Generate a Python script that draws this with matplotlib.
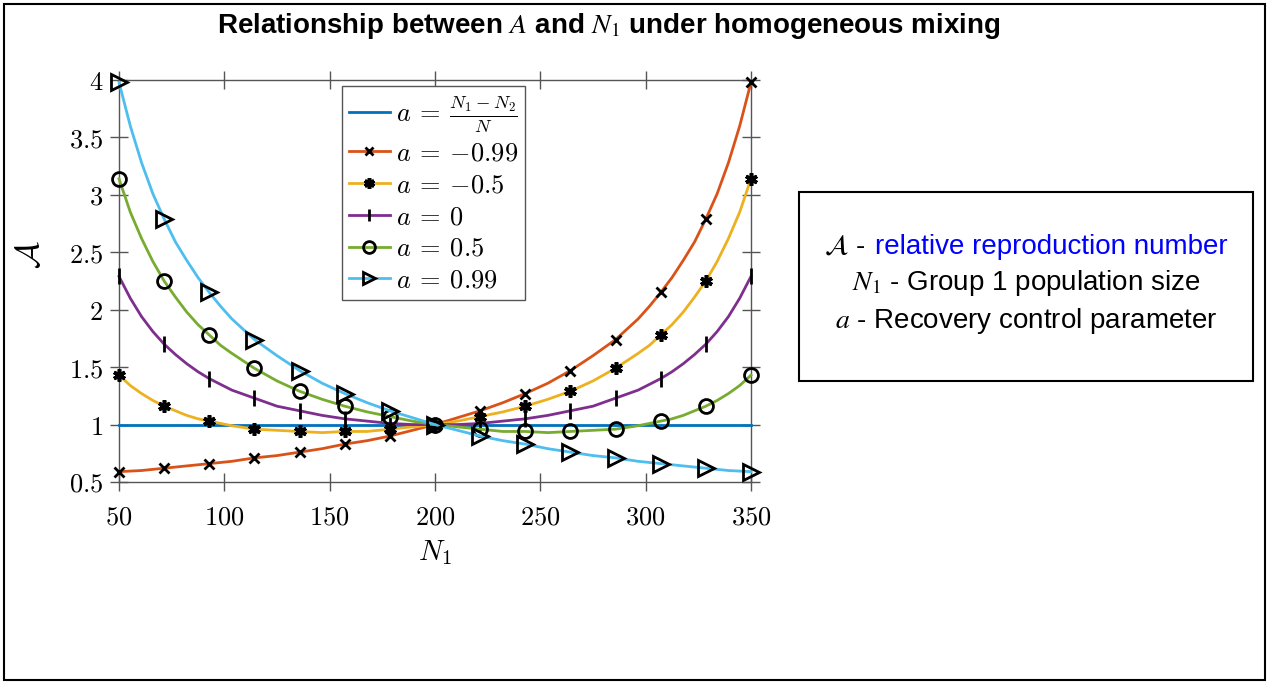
import matplotlib
matplotlib.use("Agg")
import matplotlib.pyplot as plt
import matplotlib.patches as patches
from matplotlib.ticker import FuncFormatter
from matplotlib.offsetbox import TextArea, HPacker, VPacker, AnchoredOffsetbox

plt.rcParams['mathtext.fontset'] = 'cm'

# N1 values (denser near the steep ends)
n1 = [50.0, 55.36, 60.71, 66.07, 71.43, 76.79, 82.14, 87.5, 92.86, 98.21, 103.57,
      114.29, 125.0, 135.71, 146.43, 157.14, 167.86, 178.57, 189.29, 200.0,
      210.71, 221.43, 232.14, 242.86, 253.57, 264.29, 275.0, 285.71,
      296.43, 301.79, 307.14, 312.5, 317.86, 323.21, 328.57, 333.93, 339.29, 344.64, 350.0]
# where the markers sit
n1_marks = [50.0, 71.43, 92.86, 114.29, 135.71, 157.14, 178.57, 200.0,
            221.43, 242.86, 264.29, 285.71, 307.14, 328.57, 350.0]

a_neg099 = [0.59, 0.595, 0.60, 0.61, 0.62, 0.63, 0.64, 0.65, 0.66, 0.67, 0.68,
            0.71, 0.73, 0.76, 0.79, 0.83, 0.86, 0.90, 0.95, 1.00,
            1.06, 1.12, 1.19, 1.27, 1.36, 1.47, 1.60, 1.74,
            1.92, 2.03, 2.15, 2.28, 2.43, 2.59, 2.79, 3.01, 3.28, 3.60, 3.98]
a_neg05 = [1.43, 1.34, 1.27, 1.21, 1.16, 1.12, 1.08, 1.05, 1.03, 1.01, 0.99,
           0.96, 0.95, 0.94, 0.93, 0.94, 0.94, 0.96, 0.98, 1.00,
           1.03, 1.07, 1.11, 1.16, 1.22, 1.29, 1.38, 1.49,
           1.62, 1.69, 1.78, 1.87, 1.98, 2.11, 2.25, 2.42, 2.62, 2.85, 3.14]
a_0 = [2.29, 2.10, 1.94, 1.81, 1.70, 1.61, 1.53, 1.46, 1.40, 1.35, 1.30,
       1.23, 1.16, 1.12, 1.08, 1.05, 1.03, 1.01, 1.00, 1.00,
       1.00, 1.01, 1.03, 1.05, 1.08, 1.12, 1.16, 1.23,
       1.30, 1.35, 1.40, 1.46, 1.53, 1.61, 1.70, 1.81, 1.94, 2.10, 2.29]
a_05 = a_neg05[::-1]
a_099 = a_neg099[::-1]
a_diff = [1.0] * len(n1)

labels = [r"$a\:=\:\frac{N_1-N_2}{N}$", r"$a\:=\:{-0.99}$", r"$a\:=\:{-0.5}$", r"$a\:=\:0$",
          r"$a\:=\:0.5$", r"$a\:=\:0.99$"]
series = [a_diff, a_neg099, a_neg05, a_0, a_05, a_099]
colors = ['#0072BD', '#D95319', '#EDB120', '#7E2F8E', '#77AC30', '#4DBEEE']
markers = [None, 'x', (6, 2, 0), '|', 'o', '>']
msizes = [0, 7, 9, 11, 10, 11]
mwidths = [2, 2, 2.6, 2, 2, 2]

mark_idx = [n1.index(x) for x in n1_marks]

fig = plt.figure(figsize=(12.68, 6.84), dpi=100)
ax = fig.add_axes([119/1268, 1 - 482/684, 632/1268, 402/684])

for ys, lab, c, m, ms, mw in zip(series, labels, colors, markers, msizes, mwidths):
    ax.plot(n1, ys, color=c, lw=2, label=lab, marker=m, markevery=mark_idx,
            markersize=ms, markeredgecolor='black', markerfacecolor='none',
            markeredgewidth=mw, clip_on=False, zorder=3)

ax.set_xlim(50, 350)
ax.set_ylim(0.5, 4)
ax.set_xticks([50, 100, 150, 200, 250, 300, 350])
ax.set_yticks([0.5, 1, 1.5, 2, 2.5, 3, 3.5, 4])
fmt = FuncFormatter(lambda v, p: f"${v:g}$")
ax.xaxis.set_major_formatter(fmt)
ax.yaxis.set_major_formatter(fmt)
ax.tick_params(direction='inout', length=13, width=1, color='#555555',
               labelsize=19, top=True, right=True)
ax.tick_params(axis='x', pad=10)
ax.tick_params(axis='y', pad=5)
for s in ax.spines.values():
    s.set_color('#555555')
    s.set_linewidth(1)

ax.set_xlabel(r"$N_1$", fontsize=21)
ax.xaxis.set_label_coords(0.5, -0.14)
ax.set_ylabel(r"$\mathcal{A}$", fontsize=24, rotation=90)
ax.yaxis.set_label_coords(-0.115, 0.565)

leg = ax.legend(loc='upper left', bbox_to_anchor=((342 - 119) / 632, 1 - 6 / 402),
                fontsize=19, frameon=True, fancybox=False, framealpha=1,
                edgecolor='#555555', handlelength=1.55, handletextpad=0.25,
                borderpad=0.25, labelspacing=0.22, numpoints=1, borderaxespad=0,
                markerscale=0.85)
leg.get_frame().set_linewidth(1)
leg.set_zorder(5)

fig.text(609/1268, 1 - 26/684,
         r"Relationship between $A$ and $N_1$ under homogeneous mixing",
         ha='center', va='center', fontsize=20, fontweight='bold',
         family='Liberation Sans', math_fontfamily='stix')

# description box on the right
fig.patches.append(patches.Rectangle((799/1268, 1 - 381/684), 454/1268, 189/684,
                                     transform=fig.transFigure, fill=False,
                                     edgecolor='black', lw=1.5))
tp = dict(fontsize=20, family='Liberation Sans', math_fontfamily='stix')
row1 = HPacker(children=[TextArea(r"$\mathcal{A}$ -", textprops=dict(color='black', **tp)),
                         TextArea("relative reproduction number", textprops=dict(color='#0000ff', **tp))],
               align='baseline', pad=0, sep=7)
row2 = TextArea(r"$N_1$ - Group 1 population size", textprops=dict(color='black', **tp))
row3 = TextArea(r"$a$ - Recovery control parameter", textprops=dict(color='black', **tp))
block = VPacker(children=[row1, row2, row3], align='center', pad=0, sep=6)
anc = AnchoredOffsetbox(loc='center', child=block, frameon=False, pad=0, borderpad=0,
                        bbox_to_anchor=(1026/1268, 1 - 285/684),
                        bbox_transform=fig.transFigure)
fig.add_artist(anc)

# outer frame
fig.patches.append(patches.Rectangle((4/1268, 4/684), 1261/1268, 676/684,
                                     transform=fig.transFigure, fill=False,
                                     edgecolor='black', lw=1.5))

fig.savefig("out.png", dpi=100)
